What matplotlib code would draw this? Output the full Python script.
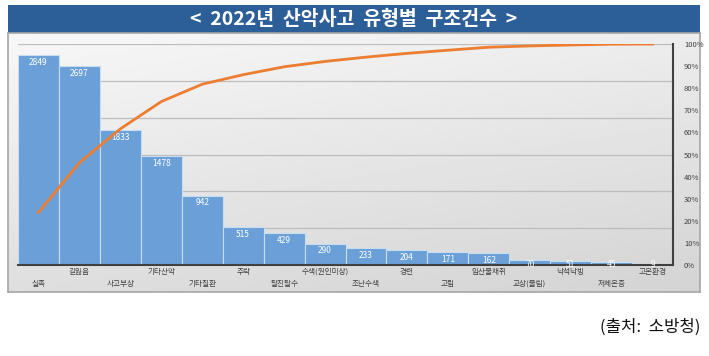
import numpy as np
import matplotlib.pyplot as plt
from matplotlib.patches import Rectangle

plt.rcParams['font.family'] = ['Noto Sans CJK KR', 'DejaVu Sans']

# data
categories = ['실족', '길잃음', '사고부상', '기타산악', '기타질환', '추락', '탈진탈수',
              '수색(원인미상)', '조난수색', '경련', '고립', '임산물채취', '교상(물림)',
              '낙석낙빙', '저체온증', '고온환경']
counts = [2849, 2697, 1833, 1478, 942, 515, 429, 290, 233, 204, 171, 162, 70, 51, 45, 9]
pct_ticks = [0, 10, 20, 30, 40, 50, 60, 70, 80, 90, 100]

W, H = 709, 356
fig = plt.figure(figsize=(W / 100, H / 100), dpi=100)
fig.patch.set_facecolor('white')


def box(x0, y0, x1, y1):
    # pixel box (top-left origin) -> figure fraction rect
    return [x0 / W, 1 - y1 / H, (x1 - x0) / W, (y1 - y0) / H]


# title bar
tax = fig.add_axes(box(8, 5, 700, 33))
tax.set_axis_off()
tax.add_patch(Rectangle((0, 0), 1, 1, transform=tax.transAxes, color='#2C5E98'))
tax.text(0.5, 0.47, '<  2022년  산악사고  유형별  구조건수  >', color='white', fontsize=14,
         fontweight='semibold', ha='center', va='center', transform=tax.transAxes)

# chart frame with grey gradient
bg = fig.add_axes(box(8, 33, 700, 292))
bg.set_xticks([])
bg.set_yticks([])
for s in bg.spines.values():
    s.set_color('#a6a6a6')
    s.set_linewidth(1.2)
gx, gy = np.meshgrid(np.linspace(0, 1, 200), np.linspace(0, 1, 100))
grad = 0.97 - 0.14 * (0.7 * gy + 0.3 * gx)
bg.imshow(grad, cmap='gray', vmin=0, vmax=1, aspect='auto', extent=[0, 1, 0, 1],
          transform=bg.transAxes, origin='upper')

# main plot
ax = fig.add_axes(box(18, 44, 673, 265))
ax.patch.set_alpha(0)
x = np.arange(len(categories))
ax.bar(x, counts, width=1.0, color='#6AA0D7', edgecolor='#C9DDF0', linewidth=0.8, zorder=3)
ax.set_xlim(-0.5, len(categories) - 0.5)
ax.set_ylim(0, 3000)
ax.set_yticks(np.arange(0, 3001, 500))
ax.set_yticklabels([])
ax.tick_params(axis='y', length=0)
ax.grid(axis='y', color='#bdbdbd', linewidth=0.9, zorder=0)
ax.set_xticks([])
for side in ['top', 'left']:
    ax.spines[side].set_visible(False)
ax.spines['bottom'].set_color('#404040')
ax.spines['bottom'].set_linewidth(1.5)
ax.spines['right'].set_color('#404040')
ax.spines['right'].set_linewidth(1.5)
ax.spines['bottom'].set_zorder(5)

for i, v in enumerate(counts):
    ax.annotate(str(v), (i, max(v, 110)), xytext=(0, -2), textcoords='offset points',
                ha='center', va='top', color='white', fontsize=6, zorder=6)
    off = -10.5 if i % 2 == 0 else -2
    ax.annotate(categories[i], (i, 0), xycoords=('data', 'axes fraction'),
                xytext=(0, off), textcoords='offset points', ha='center', va='top',
                color='#404040', fontsize=5.5, annotation_clip=False)

cum = np.cumsum(counts) / np.sum(counts) * 100
ax2 = ax.twinx()
ax2.plot(x, cum, color='#ED7D31', linewidth=2, zorder=4)
ax2.set_ylim(0, 100)
ax2.set_yticks(pct_ticks)
ax2.set_yticklabels([f'{t}%' for t in pct_ticks], fontsize=5.5, color='#404040')
ax2.tick_params(axis='y', length=0, pad=8)
for s in ax2.spines.values():
    s.set_visible(False)

# source note
fig.text(700 / W, 1 - 327 / H, '(출처:  소방청)', ha='right', va='center', fontsize=12,
         color='#111111')

fig.savefig('out.png', dpi=100)
